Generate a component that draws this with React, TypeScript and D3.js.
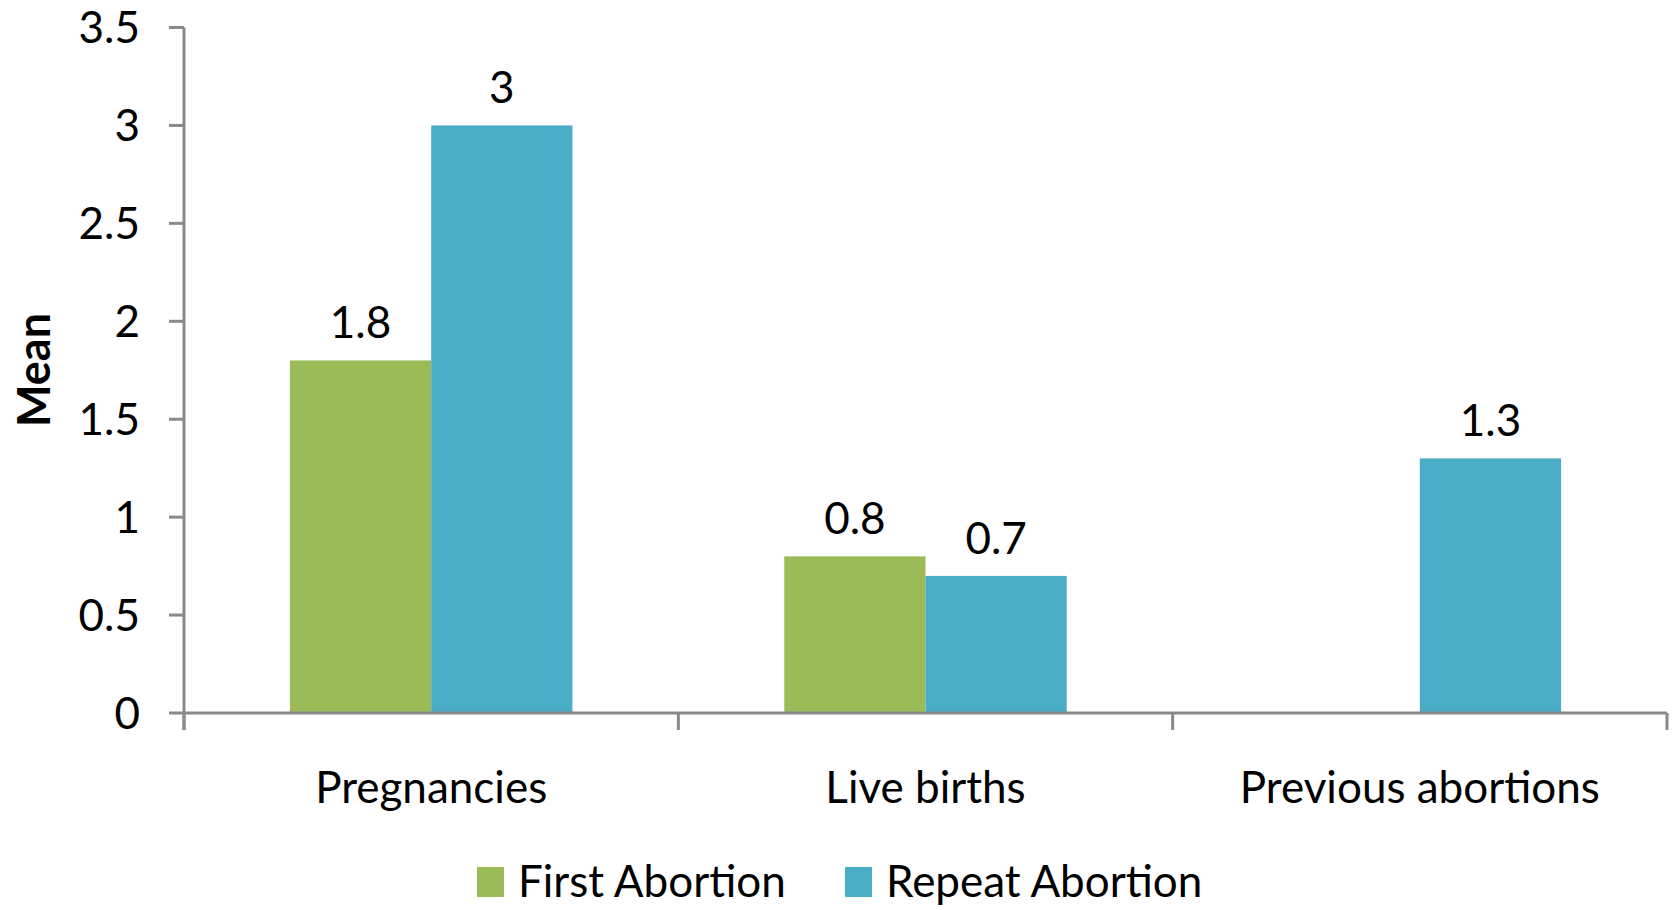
import React, { useRef, useEffect } from 'react';
import * as d3 from 'd3';

const categories = ['Pregnancies', 'Live births', 'Previous abortions'];
const seriesNames = ['First Abortion', 'Repeat Abortion'];
const firstAbortion: (number | null)[] = [1.8, 0.8, null];
const repeatAbortion: (number | null)[] = [3, 0.7, 1.3];
const yTicks = [0, 0.5, 1, 1.5, 2, 2.5, 3, 3.5];
const colors = ['#9BBB59', '#4BACC6'];

const W = 1675;
const H = 910;
const FONT = 'Lato, "Open Sans", sans-serif';

const App = () => {
  const ref = useRef<SVGSVGElement>(null);

  useEffect(() => {
    const svg = d3.select(ref.current);
    svg.selectAll('*').remove();

    const left = 184, right = 1667, top = 27.5, bottom = 713;
    const axisColor = '#898989';

    const x0 = d3.scaleBand().domain(categories).range([left, right]).padding(0);
    const x1 = d3.scaleBand().domain(seriesNames).range([0, x0.bandwidth()]).paddingInner(0).paddingOuter(0.75);
    const y = d3.scaleLinear().domain([0, 3.5]).range([bottom, top]);

    const rows = categories.map((c, i) => ({
      cat: c,
      vals: [firstAbortion[i], repeatAbortion[i]]
    }));

    // bars
    const groups = svg.append('g').selectAll('g')
      .data(rows)
      .join('g')
      .attr('transform', d => `translate(${x0(d.cat)},0)`);

    groups.selectAll('rect')
      .data(d => d.vals.map((v, j) => ({ name: seriesNames[j], v, j })).filter(e => e.v !== null))
      .join('rect')
      .attr('x', d => x1(d.name)!)
      .attr('width', x1.bandwidth())
      .attr('y', d => y(d.v as number))
      .attr('height', d => bottom - y(d.v as number))
      .attr('fill', d => colors[d.j]);

    groups.selectAll('text')
      .data(d => d.vals.map((v, j) => ({ name: seriesNames[j], v, j })).filter(e => e.v !== null))
      .join('text')
      .attr('x', d => x1(d.name)! + x1.bandwidth() / 2)
      .attr('y', d => y(d.v as number) - 22)
      .attr('text-anchor', 'middle')
      .attr('font-family', FONT)
      .attr('font-size', 44)
      .attr('fill', '#000')
      .text(d => String(d.v));

    // y axis
    const yAxis = svg.append('g');
    yAxis.append('line')
      .attr('x1', left).attr('x2', left)
      .attr('y1', top).attr('y2', bottom + 17)
      .attr('stroke', axisColor).attr('stroke-width', 3);
    yAxis.selectAll('line.tick')
      .data(yTicks)
      .join('line')
      .attr('class', 'tick')
      .attr('x1', left - 15).attr('x2', left)
      .attr('y1', d => y(d)).attr('y2', d => y(d))
      .attr('stroke', axisColor).attr('stroke-width', 3);
    yAxis.selectAll('text')
      .data(yTicks)
      .join('text')
      .attr('x', 140)
      .attr('y', d => y(d))
      .attr('dy', '0.36em')
      .attr('text-anchor', 'end')
      .attr('font-family', FONT)
      .attr('font-size', 44)
      .attr('fill', '#000')
      .text(d => String(d));

    // x axis
    const xAxis = svg.append('g');
    xAxis.append('line')
      .attr('x1', left).attr('x2', right)
      .attr('y1', bottom).attr('y2', bottom)
      .attr('stroke', axisColor).attr('stroke-width', 3);
    const bounds = categories.map(c => x0(c)!).concat([right]);
    xAxis.selectAll('line.tick')
      .data(bounds)
      .join('line')
      .attr('class', 'tick')
      .attr('x1', d => d).attr('x2', d => d)
      .attr('y1', bottom).attr('y2', bottom + 17)
      .attr('stroke', axisColor).attr('stroke-width', 3);
    xAxis.selectAll('text')
      .data(categories)
      .join('text')
      .attr('x', d => x0(d)! + x0.bandwidth() / 2)
      .attr('y', 803)
      .attr('text-anchor', 'middle')
      .attr('font-family', FONT)
      .attr('font-size', 44)
      .attr('fill', '#000')
      .text(d => d);

    // y title
    svg.append('text')
      .attr('transform', 'translate(50,370) rotate(-90)')
      .attr('text-anchor', 'middle')
      .attr('font-family', FONT)
      .attr('font-weight', 'bold')
      .attr('font-size', 45)
      .attr('fill', '#000')
      .text('Mean');

    // legend
    const legendX = [477, 845];
    const legend = svg.append('g').selectAll('g')
      .data(seriesNames)
      .join('g')
      .attr('transform', (d, i) => `translate(${legendX[i]},867)`);
    legend.append('rect')
      .attr('width', 27).attr('height', 30)
      .attr('fill', (d, i) => colors[i]);
    legend.append('text')
      .attr('x', 41)
      .attr('y', 30)
      .attr('font-family', FONT)
      .attr('font-size', 44)
      .attr('fill', '#000')
      .text(d => d);
  }, []);

  return (
    <svg ref={ref} width={W} height={H}
      style={{ position: 'absolute', left: 0, top: 0, background: '#fff' }} />
  );
};

export default App;
